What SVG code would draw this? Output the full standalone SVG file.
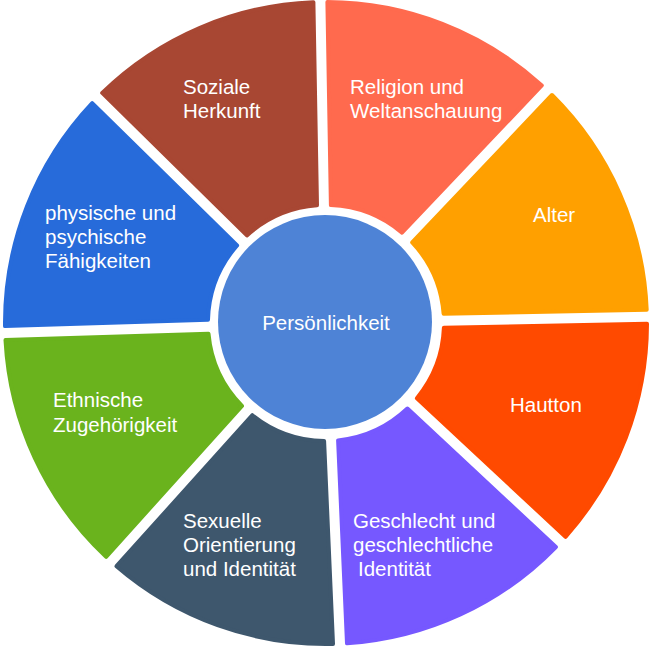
<svg xmlns="http://www.w3.org/2000/svg" width="652" height="655" viewBox="0 0 652 655">
<style>
.seg{stroke-width:4;stroke-linejoin:round}
.t{font-family:"Liberation Sans",Arial,sans-serif;font-size:20.5px;fill:#ffffff}
</style>
<rect width="652" height="655" fill="#ffffff"/>
<g id="religion">
<path class="seg" fill="#FF6A4E" stroke="#FF6A4E" d="M327.4,2.0 A321,321 0 0 1 541.8,85.4 L402.0,232.7 A118,118 0 0 0 330.9,205.1 Z"/>
<text class="t" x="350" y="94">Religion und</text>
<text class="t" x="350" y="118">Weltanschauung</text>
</g>
<g id="alter">
<path class="seg" fill="#FFA000" stroke="#FFA000" d="M552.0,95.0 A321,321 0 0 1 646.7,309.8 L443.6,313.7 A118,118 0 0 0 412.2,242.4 Z"/>
<text class="t" x="533" y="222">Alter</text>
</g>
<g id="hautton">
<path class="seg" fill="#FF4A00" stroke="#FF4A00" d="M647.0,323.8 A321,321 0 0 1 565.5,536.8 L416.9,398.2 A118,118 0 0 0 443.9,327.7 Z"/>
<text class="t" x="510" y="412">Hautton</text>
</g>
<g id="geschlecht">
<path class="seg" fill="#7658FF" stroke="#7658FF" d="M555.9,547.0 A321,321 0 0 1 347.0,643.3 L338.1,440.4 A118,118 0 0 0 407.4,408.5 Z"/>
<text class="t" x="353" y="528">Geschlecht und</text>
<text class="t" x="353" y="552">geschlechtliche</text>
<text class="t" x="358" y="576">Identität</text>
</g>
<g id="sexuelle">
<path class="seg" fill="#3E576D" stroke="#3E576D" d="M333.0,643.9 A321,321 0 0 1 116.5,566.2 L252.4,415.2 A118,118 0 0 0 324.1,441.0 Z"/>
<text class="t" x="183" y="528">Sexuelle</text>
<text class="t" x="183" y="552">Orientierung</text>
<text class="t" x="183" y="576">und Identität</text>
</g>
<g id="ethnische">
<path class="seg" fill="#6AB31D" stroke="#6AB31D" d="M106.1,556.8 A321,321 0 0 1 5.5,340.1 L208.5,333.7 A118,118 0 0 0 242.0,405.9 Z"/>
<text class="t" x="53" y="407">Ethnische</text>
<text class="t" x="53" y="432">Zugehörigkeit</text>
</g>
<g id="physische">
<path class="seg" fill="#276BDA" stroke="#276BDA" d="M5.0,326.1 A321,321 0 0 1 92.2,103.1 L237.1,245.4 A118,118 0 0 0 208.0,319.7 Z"/>
<text class="t" x="45" y="220">physische und</text>
<text class="t" x="45" y="244">psychische</text>
<text class="t" x="45" y="268">Fähigkeiten</text>
</g>
<g id="soziale">
<path class="seg" fill="#A84733" stroke="#A84733" d="M102.2,92.9 A321,321 0 0 1 313.4,2.2 L317.0,205.3 A118,118 0 0 0 246.9,235.4 Z"/>
<text class="t" x="183" y="94">Soziale</text>
<text class="t" x="183" y="118">Herkunft</text>
</g>
<g id="persoenlichkeit">
<circle cx="325" cy="322" r="107" fill="#4E83D6"/>
<text class="t" x="326" y="330" text-anchor="middle">Persönlichkeit</text>
</g>
</svg>
